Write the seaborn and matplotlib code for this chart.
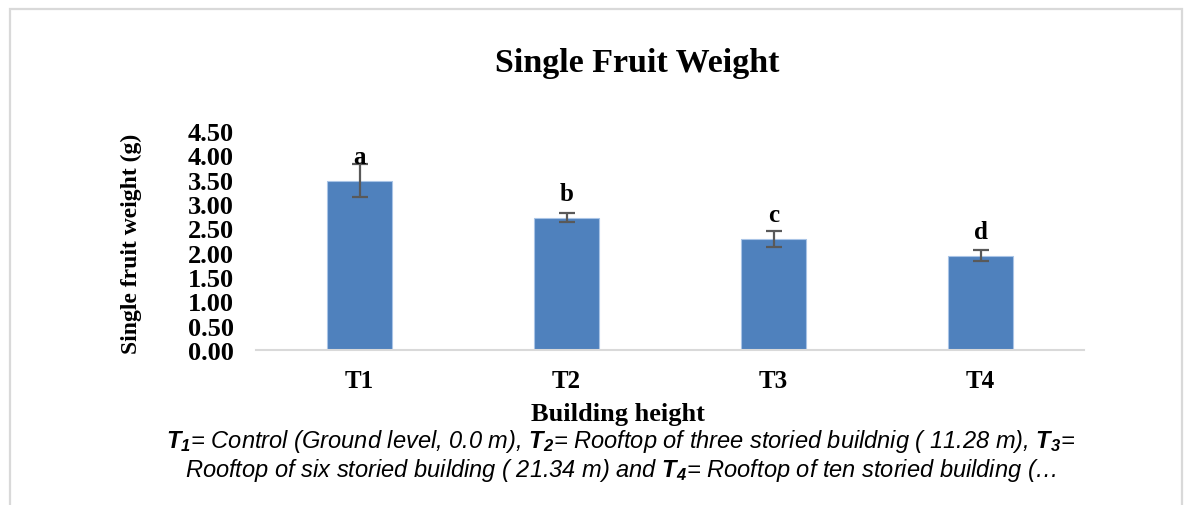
#!/usr/bin/env python3

import matplotlib
matplotlib.use("Agg")
import matplotlib.pyplot as plt
from matplotlib.patches import Rectangle
import pandas as pd
import seaborn as sns

TREATMENTS = ["T1", "T2", "T3", "T4"]
WEIGHTS = [3.48, 2.72, 2.28, 1.94]
ERRORS = [0.34, 0.10, 0.16, 0.12]
LETTERS = ["a", "b", "c", "d"]
YTICKS = [0.0, 0.5, 1.0, 1.5, 2.0, 2.5, 3.0, 3.5, 4.0, 4.5]

BAR_COLOR = "#4f81bd"
SERIF = "Liberation Serif"

sns.set_theme(style="white")
plt.rcParams["font.family"] = ["Liberation Serif", "DejaVu Serif"]
plt.rcParams["text.color"] = "black"
plt.rcParams["xtick.color"] = "black"
plt.rcParams["ytick.color"] = "black"
plt.rcParams["mathtext.fontset"] = "custom"
plt.rcParams["mathtext.it"] = "Liberation Sans:italic"
plt.rcParams["mathtext.bf"] = "Liberation Sans:italic:bold"
plt.rcParams["mathtext.rm"] = "Liberation Sans:italic"

df = pd.DataFrame({"treatment": TREATMENTS, "weight": WEIGHTS})

W, H = 1184, 506
fig = plt.figure(figsize=(W / 100, H / 100), dpi=100)
ax = fig.add_axes([256 / W, 1 - 351 / H, 828 / W, (351 - 132) / H])

sns.barplot(data=df, x="treatment", y="weight", color=BAR_COLOR, width=0.31,
            saturation=1, edgecolor="#a9c4e6", linewidth=0.8, errorbar=None, ax=ax)
ax.errorbar(range(len(TREATMENTS)), WEIGHTS, yerr=ERRORS, fmt="none",
            ecolor="#595959", elinewidth=1.6, capsize=5.5, capthick=1.6)

for i, (w, letter) in enumerate(zip(WEIGHTS, LETTERS)):
    ax.text(i, w + 0.5, letter, ha="center", va="center", fontsize=18,
            fontweight="bold", family=SERIF)

ax.set_ylim(0, 4.5)
ax.set_xlim(-0.5, 3.5)
ax.set_yticks(YTICKS)
ax.set_yticklabels(["{:.2f}".format(v) for v in YTICKS], fontsize=19,
                   fontweight="bold", family=SERIF)
ax.set_xticks(range(len(TREATMENTS)))
ax.set_xticklabels(TREATMENTS, fontsize=18, fontweight="bold", family=SERIF)
ax.tick_params(axis="y", length=0, pad=16)
ax.tick_params(axis="x", length=0, pad=14)

for side in ["left", "right", "top"]:
    ax.spines[side].set_visible(False)
ax.spines["bottom"].set_color("#d9d9d9")
ax.spines["bottom"].set_linewidth(1.5)

ax.set_xlabel("")
ax.set_ylabel("")
fig.text(131 / W, 1 - 244 / H, "Single fruit weight (g)", rotation=90,
         ha="center", va="center", fontsize=17, fontweight="bold", family=SERIF)
fig.text(618 / W, 1 - 415 / H, "Building height", ha="center", va="center",
         fontsize=19, fontweight="bold", family=SERIF)
fig.text(637 / W, 1 - 64 / H, "Single Fruit Weight", ha="center", va="center",
         fontsize=24.5, fontweight="bold", family=SERIF)

caption = (r"$\mathbf{T_1}$= Control (Ground level, 0.0 m), "
           r"$\mathbf{T_2}$= Rooftop of three storied buildnig ( 11.28 m), $\mathbf{T_3}$="
           "\n"
           r"Rooftop of six storied building ( 21.34 m) and "
           r"$\mathbf{T_4}$= Rooftop of ten storied building (…")
fig.text(621 / W, 1 - 456 / H, caption, ha="center", va="center", fontsize=17,
         style="italic", family=["Liberation Sans", "DejaVu Sans"],
         linespacing=1.1)

fig.add_artist(Rectangle((9.5 / W, -0.05), (1182 - 9.5) / W, 1.05 - 9.5 / H,
                         transform=fig.transFigure, fill=False,
                         edgecolor="#d9d9d9", linewidth=1.6))

fig.savefig("out.png", dpi=100)
